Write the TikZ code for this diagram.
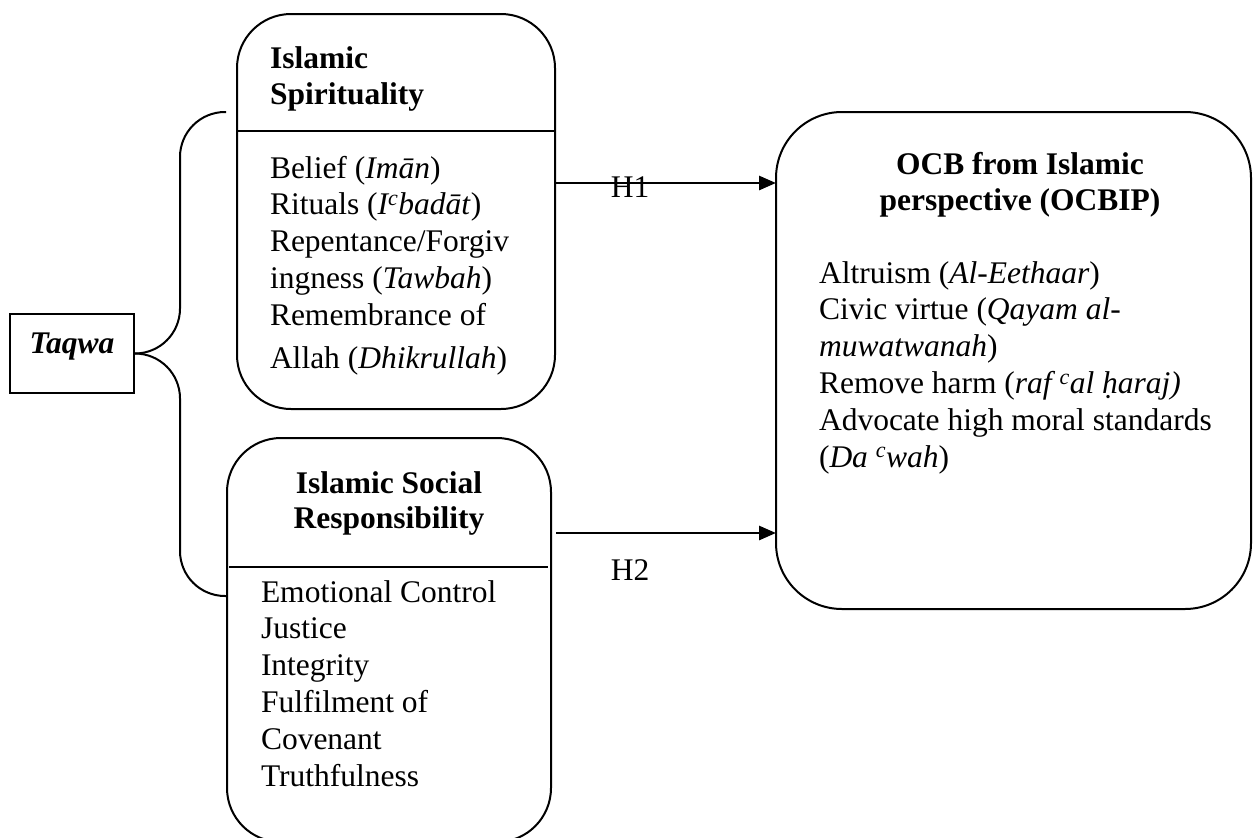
\documentclass[tikz,border=0pt]{standalone}
\usepackage{fontspec}
\setmainfont{Liberation Serif}
\usetikzlibrary{arrows.meta}

% text sizes used in the model
\newcommand\diagbody{\fontsize{31.5}{36.8}\selectfont}
\newcommand\diaghead{\fontsize{31.5}{36}\selectfont\bfseries}

\begin{document}
\begin{tikzpicture}[x=1pt,y=-1pt,
  outline/.style={draw, line width=2pt},
  roundbox/.style={outline, rounded corners=#1, inner sep=0pt, outer sep=0pt},
  roundbox/.default=54pt,
  txt/.style={inner sep=0pt, outer sep=0pt},
  link/.style={line width=2pt},
  hyp/.style={line width=2.8pt, -{Triangle[length=17pt,width=14pt]}}]

\useasboundingbox (0,0) rectangle (1253,838);

% Taqwa (root construct)
\node[outline, inner sep=0pt, outer sep=0pt, text width=124pt, align=center,
      text height=39pt, text depth=40pt, font=\diagbody\bfseries\itshape,
      anchor=base] (taqwa) at (72,353) {Taqwa};

% dimension boxes
\node[roundbox, minimum width=318pt, minimum height=395pt] (spirit) at (396,211.5) {};
\node[roundbox, minimum width=324pt, minimum height=404pt] (social) at (389,640) {};
\node[roundbox=66pt, minimum width=475pt, minimum height=497pt] (ocb) at (1013.5,360.5) {};

% header separators
\coordinate (sepA) at (0,131);
\coordinate (sepB) at (0,567);
\draw[link] (spirit.west |- sepA) -- (spirit.east |- sepA);
\draw[link] ([xshift=2pt]social.west |- sepB) -- ([xshift=-3pt]social.east |- sepB);

% Islamic Spirituality
\node[txt, anchor=base west, font=\diaghead] (spirithead) at (270,68)
  {\begin{tabular}[t]{@{}l@{}}Islamic\\Spirituality\end{tabular}};
\node[txt, anchor=base west, font=\diagbody] (spiritbody) at (270,178)
  {\begin{tabular}[t]{@{}l@{}}
   Belief (\textit{Imān})\\
   Rituals (\textit{I\textsuperscript{c}badāt})\\
   Repentance/Forgiv\\
   ingness (\textit{Tawbah})\\
   Remembrance of\\[6pt]
   Allah (\textit{Dhikrullah})
   \end{tabular}};

% Islamic Social Responsibility
\node[txt, anchor=base, font=\fontsize{31.5}{35}\selectfont\bfseries] (socialhead) at (389,493)
  {\begin{tabular}[t]{@{}c@{}}Islamic Social\\Responsibility\end{tabular}};
\node[txt, anchor=base west, font=\diagbody] (socialbody) at (261,602)
  {\begin{tabular}[t]{@{}l@{}}
   Emotional Control\\
   Justice\\
   Integrity\\
   Fulfilment of\\
   Covenant\\
   Truthfulness
   \end{tabular}};

% OCB from Islamic perspective
\node[txt, anchor=base, font=\diaghead] (ocbhead) at (1020,174)
  {\begin{tabular}[t]{@{}c@{}}OCB from Islamic\\perspective (OCBIP)\end{tabular}};
\node[txt, anchor=base west, font=\diagbody] (ocbbody) at (819,283)
  {\begin{tabular}[t]{@{}l@{}}
   Altruism (\textit{Al-Eethaar})\\
   Civic virtue (\textit{Qayam al-}\\
   \textit{muwatwanah})\\
   Remove harm (\textit{raf \textsuperscript{c}al ḥaraj)}\\
   Advocate high moral standards\\
   (\textit{Da \textsuperscript{c}wah})
   \end{tabular}};

% brace joining Taqwa to its two dimensions
\coordinate (spine) at (180,0);
\coordinate (braceTop) at (226,112);
\coordinate (braceBot) at (226,596);
\draw[link, rounded corners=45pt] (braceTop) -- (spine |- braceTop)
  -- (spine |- taqwa.east) -- (taqwa.east);
\draw[link, rounded corners=45pt] (taqwa.east) -- (spine |- taqwa.east)
  -- (spine |- braceBot) -- (braceBot);

% hypothesised paths
\coordinate (hA) at (0,183);
\coordinate (hB) at (0,533);
\draw[hyp] (spirit.east |- hA) -- (ocb.west |- hA);
\draw[hyp] ([xshift=5pt]social.east |- hB) -- (ocb.west |- hB);
\node[txt, anchor=base, font=\diagbody] (hOne) at (630,197) {H1};
\node[txt, anchor=base, font=\diagbody] (hTwo) at (630,580) {H2};

\end{tikzpicture}
\end{document}
